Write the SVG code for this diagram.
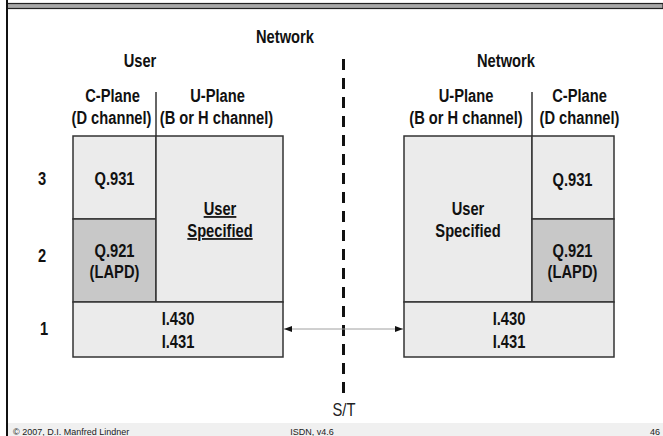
<svg xmlns="http://www.w3.org/2000/svg" width="663" height="436" viewBox="0 0 663 436">
  <defs>
    <style>
      /* condensed bold labels: Liberation Sans bold squeezed horizontally */
      .t { font-family: "Liberation Sans", Arial, sans-serif; font-weight: bold; font-size: 17.5px; fill: #111; text-anchor: middle; }
      .st { font-family: "Liberation Sans", Arial, sans-serif; font-size: 18px; fill: #222; text-anchor: middle; }
      .ft { font-family: "Liberation Sans", Arial, sans-serif; font-size: 9px; fill: #222; }
      .box { fill: #ebebeb; stroke: #333; stroke-width: 1.5; }
      .dark { fill: #c8c8c8; stroke: #333; stroke-width: 1.5; }
      .sep { stroke: #333; stroke-width: 1.5; fill: none; }
    </style>
    <marker id="ah" viewBox="0 0 8 6" refX="8" refY="3" markerWidth="8" markerHeight="6" markerUnits="userSpaceOnUse" orient="auto-start-reverse">
      <path d="M0,0 L8,3 L0,6 Z" fill="#111"/>
    </marker>
  </defs>

  <!-- page frame -->
  <rect x="0" y="0" width="663" height="436" fill="#ffffff"/>
  <rect x="8" y="423" width="655" height="13" fill="#f0f0f0"/>
  <rect x="7" y="3.5" width="656" height="5" fill="#a8a8a8" stroke="#222" stroke-width="1.2"/>
  <line x1="7" y1="0" x2="7" y2="436" stroke="#111" stroke-width="2"/>

  <!-- headings -->
  <text class="t" transform="translate(285 43) scale(0.84 1)">Network</text>
  <text class="t" transform="translate(140 67) scale(0.84 1)">User</text>
  <text class="t" transform="translate(506 67) scale(0.84 1)">Network</text>

  <!-- layer numbers -->
  <text class="t" transform="translate(42 185) scale(0.84 1)">3</text>
  <text class="t" transform="translate(42 262) scale(0.84 1)">2</text>
  <text class="t" transform="translate(44 335) scale(0.84 1)">1</text>

  <!-- user side stack -->
  <g id="user-stack">
    <line class="sep" x1="156" y1="92" x2="156" y2="136"/>
    <text class="t" transform="translate(112.5 102) scale(0.84 1)">C-Plane</text>
    <text class="t" transform="translate(111.5 124) scale(0.84 1)">(D channel)</text>
    <text class="t" transform="translate(217.5 102) scale(0.84 1)">U-Plane</text>
    <text class="t" transform="translate(216.5 124) scale(0.84 1)">(B or H channel)</text>
    <rect class="box" x="73" y="136" width="83" height="83"/>
    <rect class="dark" x="73" y="219" width="83" height="83"/>
    <rect class="box" x="156" y="136" width="127" height="166"/>
    <rect class="box" x="73" y="302" width="210" height="55"/>
    <text class="t" transform="translate(114.5 185) scale(0.84 1)">Q.931</text>
    <text class="t" transform="translate(114.5 257) scale(0.84 1)">Q.921</text>
    <text class="t" transform="translate(114.5 278) scale(0.84 1)">(LAPD)</text>
    <text class="t" transform="translate(220 215) scale(0.84 1)" text-decoration="underline">User</text>
    <text class="t" transform="translate(220 237) scale(0.84 1)" text-decoration="underline">Specified</text>
    <text class="t" transform="translate(178 325) scale(0.84 1)">I.430</text>
    <text class="t" transform="translate(178 348) scale(0.84 1)">I.431</text>
  </g>

  <!-- network side stack -->
  <g id="network-stack">
    <line class="sep" x1="532" y1="92" x2="532" y2="136"/>
    <text class="t" transform="translate(466 102) scale(0.84 1)">U-Plane</text>
    <text class="t" transform="translate(466 124) scale(0.84 1)">(B or H channel)</text>
    <text class="t" transform="translate(579.5 102) scale(0.84 1)">C-Plane</text>
    <text class="t" transform="translate(579.5 124) scale(0.84 1)">(D channel)</text>
    <rect class="box" x="404" y="136" width="128" height="166"/>
    <rect class="box" x="532" y="136" width="82" height="83"/>
    <rect class="dark" x="532" y="219" width="82" height="83"/>
    <rect class="box" x="404" y="302" width="210" height="55"/>
    <text class="t" transform="translate(572.5 186) scale(0.84 1)">Q.931</text>
    <text class="t" transform="translate(572.5 257) scale(0.84 1)">Q.921</text>
    <text class="t" transform="translate(572.5 278) scale(0.84 1)">(LAPD)</text>
    <text class="t" transform="translate(468 215) scale(0.84 1)">User</text>
    <text class="t" transform="translate(468 237) scale(0.84 1)">Specified</text>
    <text class="t" transform="translate(509 325) scale(0.84 1)">I.430</text>
    <text class="t" transform="translate(509 348) scale(0.84 1)">I.431</text>
  </g>

  <!-- reference point S/T -->
  <g id="st-point">
    <line x1="343.5" y1="59" x2="343.5" y2="395" stroke="#111" stroke-width="3" stroke-dasharray="11 8"/>
    <text class="st" transform="translate(344 416) scale(0.82 1)">S/T</text>
  </g>

  <!-- physical layer link -->
  <g id="connectors">
    <line x1="284" y1="329" x2="403" y2="329" stroke="#a0a0a0" stroke-width="1" marker-start="url(#ah)" marker-end="url(#ah)"/>
  </g>

  <!-- footer -->
  <text class="ft" x="13" y="435">© 2007, D.I. Manfred Lindner</text>
  <text class="ft" x="312" y="435" text-anchor="middle">ISDN, v4.6</text>
  <text class="ft" x="660" y="435" text-anchor="end">46</text>
</svg>
